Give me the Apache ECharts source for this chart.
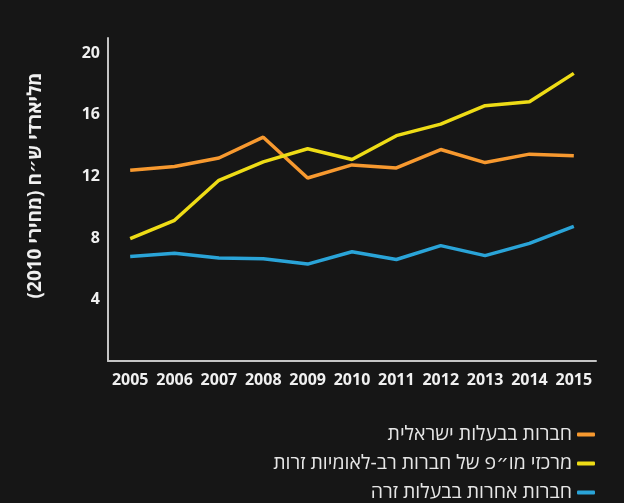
<!DOCTYPE html>
<html>
<head>
<meta charset="utf-8">
<script src="https://cdn.jsdelivr.net/npm/echarts@6/dist/echarts.min.js"></script>
<style>
  html, body { margin: 0; padding: 0; background: #161616; }
  #chart { width: 624px; height: 503px; }
</style>
</head>
<body>
<div id="chart" dir="rtl"></div>
<script>
const years = ['2005','2006','2007','2008','2009','2010','2011','2012','2013','2014','2015'];
const israeliOwned = [12.4, 12.65, 13.2, 14.55, 11.9, 12.75, 12.55, 13.75, 12.9, 13.45, 13.35];
const multinationalRnD = [7.95, 9.15, 11.75, 12.95, 13.8, 13.1, 14.65, 15.4, 16.6, 16.85, 18.7];
const otherForeign = [6.8, 7.0, 6.7, 6.65, 6.3, 7.1, 6.6, 7.5, 6.85, 7.65, 8.75];
const yTickLabels = [4, 8, 12, 16, 20];
const seriesNames = [
  'חברות בבעלות ישראלית',
  'מרכזי מו״פ של חברות רב-לאומיות זרות',
  'חברות אחרות בבעלות זרה'
];
const yAxisTitle = 'מליארדי ש״ח (מחירי 2010)';

const colors = ['#f7992f', '#eedc16', '#2aa4d8'];
const font = '"Open Sans", "Noto Sans", "DejaVu Sans", sans-serif';

const chart = echarts.init(document.getElementById('chart'), null, { renderer: 'canvas' });
chart.setOption({
  backgroundColor: '#161616',
  animation: false,
  color: colors,
  grid: { left: 108, right: 28, top: 38, bottom: 142, containLabel: false },
  legend: {
    orient: 'vertical',
    right: 24,
    top: 419,
    height: 84,
    align: 'right',
    icon: 'roundRect',
    itemWidth: 18,
    itemHeight: 4,
    itemGap: 8,
    textStyle: { color: '#e6e6e6', fontSize: 19.5, fontFamily: font, lineHeight: 21 },
    data: seriesNames
  },
  xAxis: {
    type: 'category',
    data: years,
    boundaryGap: true,
    axisLine: { lineStyle: { color: '#c4c4c4', width: 2 } },
    axisTick: { show: false },
    axisLabel: { interval: 0, color: '#f0f0f0', fontSize: 16, fontWeight: 'bold', fontFamily: font, margin: 11 }
  },
  yAxis: {
    type: 'value',
    min: 0,
    max: 21,
    interval: 4,
    name: yAxisTitle,
    nameLocation: 'middle',
    nameRotate: 90,
    nameGap: 63,
    nameTextStyle: { color: '#f0f0f0', fontSize: 19, fontWeight: 'bold', fontFamily: font, padding: [0, 0, 0, 28] },
    axisLine: { show: true, lineStyle: { color: '#c4c4c4', width: 2 } },
    axisTick: { show: false },
    splitLine: { show: false },
    axisLabel: {
      color: '#f0f0f0', fontSize: 16, fontWeight: 'bold', fontFamily: font, margin: 8,
      formatter: v => (yTickLabels.indexOf(v) >= 0 ? String(v) : '')
    }
  },
  series: [
    { name: seriesNames[0], type: 'line', data: israeliOwned, symbol: 'none', lineStyle: { width: 3.5, color: colors[0] } },
    { name: seriesNames[1], type: 'line', data: multinationalRnD, symbol: 'none', lineStyle: { width: 3.5, color: colors[1] } },
    { name: seriesNames[2], type: 'line', data: otherForeign, symbol: 'none', lineStyle: { width: 3.5, color: colors[2] } }
  ]
});
</script>
</body>
</html>
